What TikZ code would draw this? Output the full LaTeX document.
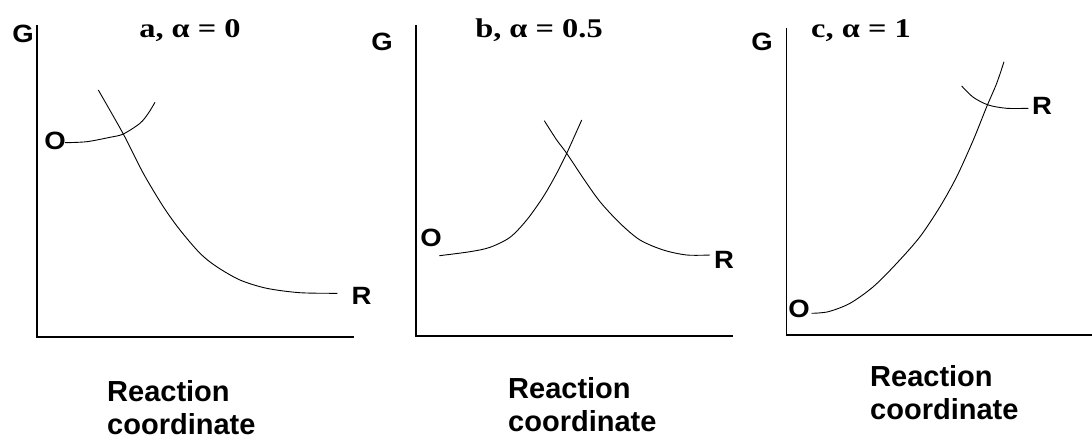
\documentclass[tikz,border=0pt]{standalone}
\usepackage{fontspec}
\setmainfont{Liberation Serif}
\newfontfamily\labfont{Liberation Sans}
\newfontfamily\widelabfont[FakeStretch=1.1]{Liberation Sans}
\newfontfamily\ttlfont[FakeStretch=1.2]{Liberation Serif}
\usetikzlibrary{positioning}

\begin{document}
\begin{tikzpicture}[x=1pt, y=-1pt,
  axis/.style={line width=1.5pt},
  curve/.style={line width=0.9pt},
  lab/.style={inner sep=0pt, font=\widelabfont\bfseries\fontsize{25}{28}\selectfont},
  ttl/.style={inner sep=0pt, anchor=base, font=\ttlfont\bfseries\fontsize{27}{32}\selectfont},
  xlab/.style={inner sep=0pt, anchor=north west, align=left, font=\labfont\bfseries\fontsize{29}{33}\selectfont}]
\useasboundingbox (0,0) rectangle (1092,439);

% panel a
\node[ttl] (aT) at (190,37) {a, α = 0};
\node[lab] (aG) at (23,33.5) {G};
\node[lab] (aO) at (55,141) {O};
\node[lab] (aR) at (361.5,296) {R};
\draw[axis] (37,25) |- (354,337);
\draw[curve] plot[smooth] coordinates {(65,142.7) (86.7,141.7) (110,137.3) (123.3,134) (140,123.3) (148.3,113.3) (155,102.3)};
\draw[curve] plot[smooth] coordinates {(98.3,90) (123.3,134) (143.3,173.3) (163.3,206.7) (180,230) (200,253.3) (216.7,266.7) (240,280) (266.7,288.3) (300,292.7) (337.3,293.3)};
\node[xlab] (aX) at (107,380) {Reaction\\coordinate};

% panel b
\node[ttl] (bT) at (539,37) {b, α = 0.5};
\node[lab] (bG) at (382,42) {G};
\node[lab] (bO) at (431,237.5) {O};
\node[lab] (bR) at (724,260) {R};
\draw[axis] (416,25) |- (733,336);
\draw[curve] plot[smooth] coordinates {(439.3,255.7) (470,251.7) (490,247.3) (510,237.3) (526.7,220) (543.3,196.7) (556.7,173.3) (566.7,153.3) (575,135) (581.7,120)};
\draw[curve] plot[smooth] coordinates {(544.3,120.7) (556.7,140) (566.7,153.3) (583.3,178.3) (600,201.7) (620,223.3) (640,240) (663.3,250) (686.7,255) (710,255)};
\node[xlab] (bX) at (508,377) {Reaction\\coordinate};

% panel c
\node[ttl] (cT) at (861,37) {c, α = 1};
\node[lab] (cG) at (762,42) {G};
\node[lab] (cO) at (799,309) {O};
\node[lab] (cR) at (1042,105.5) {R};
\draw[axis] (786.7,28) |- (1092,335);
\draw[curve] plot[smooth] coordinates {(811.7,313.3) (828.3,311.7) (850,303.3) (873.3,286.7) (896.7,263.3) (920,236.7) (940,206.7) (956.7,176.7) (973.3,140) (986.7,106.7) (996.7,83.3) (1004,61.7)};
\draw[curve] plot[smooth] coordinates {(961.7,86) (973.3,97.3) (988.3,105) (1006.7,108.3) (1028.3,108.3)};
\node[xlab] (cX) at (870,365) {Reaction\\coordinate};
\end{tikzpicture}
\end{document}
